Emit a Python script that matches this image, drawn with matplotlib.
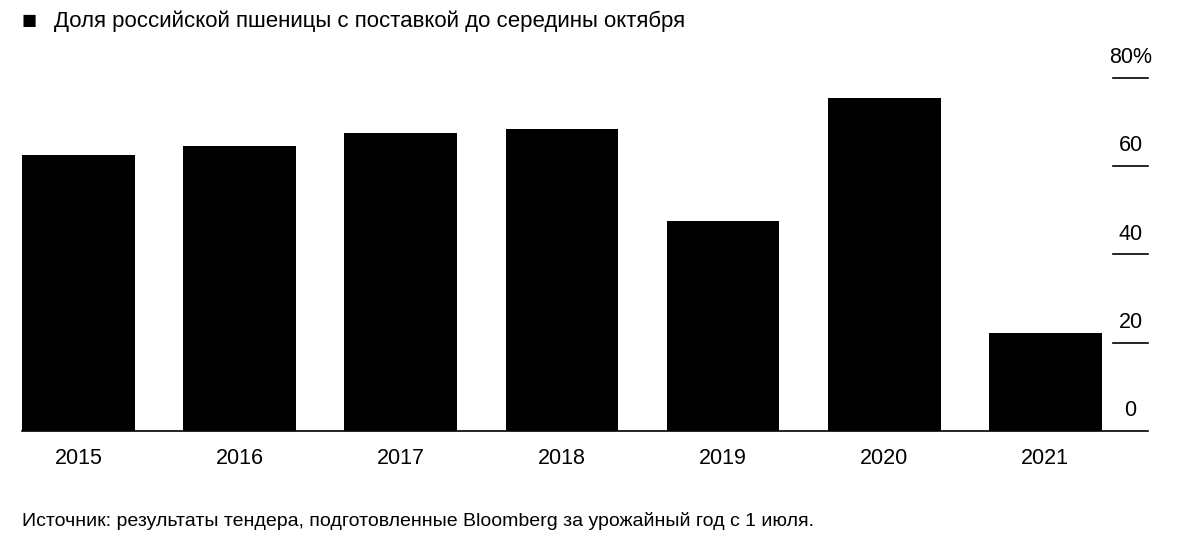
import matplotlib.pyplot as plt

plt.rcParams['font.family'] = 'Liberation Sans'

years = ['2015', '2016', '2017', '2018', '2019', '2020', '2021']
share = [62.5, 64.5, 67.5, 68.4, 47.5, 75.5, 22.3]
yticks = [0, 20, 40, 60, 80]
ylabels = ['0', '20', '40', '60', '80%']

fig = plt.figure(figsize=(12, 5.52), dpi=100)
ax = fig.add_axes([0.018, 0.219, 0.939, 0.640])
x = range(len(years))
ax.bar(x, share, width=0.7, color='black')
ax.set_xlim(-0.354, 6.64)
ax.set_ylim(0, 80)
for s in ['top', 'left', 'right']:
    ax.spines[s].set_visible(False)
ax.spines['bottom'].set_linewidth(1.2)
ax.set_yticks([])
ax.set_xticks(list(x))
ax.set_xticklabels(years, fontsize=15.5)
ax.tick_params(axis='x', length=0, pad=12)

# right-side tick marks with labels above them
for v, lab in zip(yticks, ylabels):
    if v > 0:
        ax.plot([6.42, 6.64], [v, v], color='black', lw=1.2, clip_on=False)
    ax.text(6.53, v + 2.2, lab, ha='center', va='bottom', fontsize=15.5)

fig.text(0.018, 0.962, '\u25A0', fontsize=18, va='center', ha='left')
fig.text(0.045, 0.962, 'Доля российской пшеницы с поставкой до середины октября',
         fontsize=16, va='center', ha='left')
fig.text(0.018, 0.057, 'Источник: результаты тендера, подготовленные Bloomberg за урожайный год с 1 июля.',
         fontsize=14, va='center', ha='left')

fig.savefig('out.png')
